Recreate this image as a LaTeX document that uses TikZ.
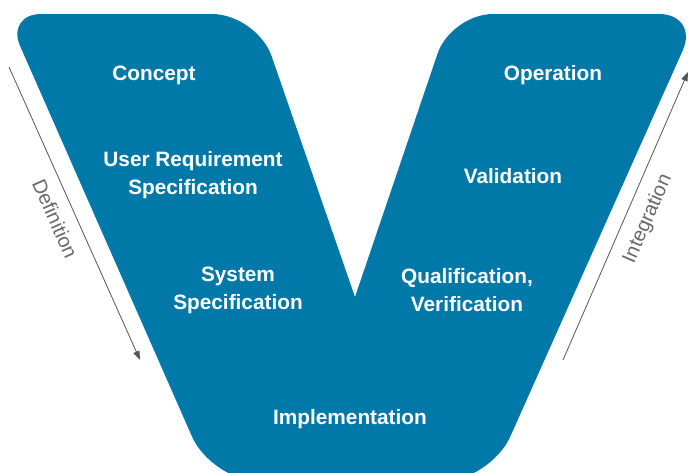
\documentclass[tikz,border=0pt]{standalone}
\usepackage{fontspec}
\setmainfont{Liberation Sans}
\usetikzlibrary{arrows.meta}
\definecolor{vblue}{RGB}{0,120,168}
\definecolor{axisgray}{RGB}{85,85,85}
\definecolor{textgray}{RGB}{105,105,105}

\begin{document}
\begin{tikzpicture}[x=1pt, y=-1pt,
  phase/.style={text=white, align=center, font=\fontsize{20.8}{28}\selectfont\bfseries},
  axis/.style={draw=axisgray, line width=0.8pt, -{Triangle[length=9pt,width=6.5pt]}},
  axislabel/.style={text=textgray, font=\fontsize{20}{24}\selectfont, sloped, below, inner sep=12pt}]
 \useasboundingbox (0,0) rectangle (689,472);
 \clip (0,0) rectangle (689,472);

 \fill[vblue] (100,14) [rounded corners=45pt] -- (257,14) [sharp corners] -- (355,297)
   [rounded corners=42pt] -- (451,14) [rounded corners=40pt] -- (699,14)
   [rounded corners=50pt] -- (490,482) -- (212,482) [rounded corners=35pt] -- (6,14) -- cycle;

 \node[phase] (concept) at (154,75) {Concept};
 \node[phase] (userreq) at (193,175) {User Requirement\\Specification};
 \node[phase] (sysspec) at (238,290) {System\\Specification};
 \node[phase] (impl) at (350,419) {Implementation};
 \node[phase] (qualif) at (467,290) {Qualification,\\Verification};
 \node[phase] (valid) at (513,176) {Validation};
 \node[phase] (oper) at (553,75) {Operation};

 \coordinate (def-start) at (9,67);
 \coordinate (def-end) at (140,360);
 \coordinate (int-start) at (563,360);
 \coordinate (int-end) at (688,72);

 \draw[axis] (def-start) -- (def-end) node[axislabel, pos=0.49] {Definition};
 \draw[axis] (int-start) -- (int-end) node[axislabel, pos=0.52] {Integration};
\end{tikzpicture}
\end{document}
